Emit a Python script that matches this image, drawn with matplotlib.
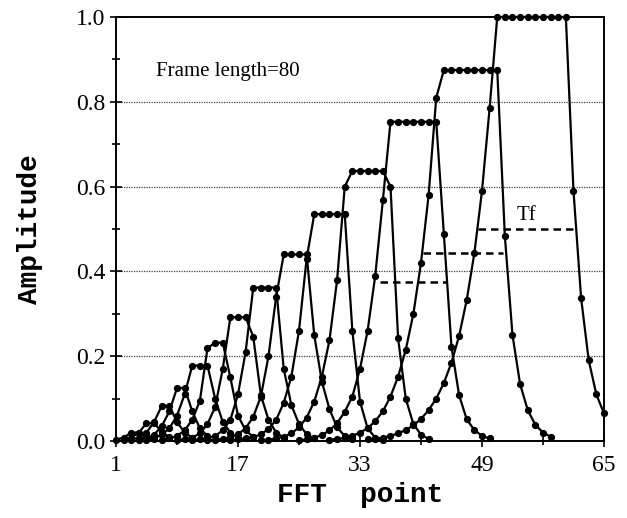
import matplotlib
matplotlib.use("Agg")
import matplotlib.pyplot as plt
import numpy as np

# first FFT point of each filter curve
starts = [1, 2, 3, 4, 5, 7, 9, 11, 13, 16, 20, 25, 29, 34]

# amplitudes, one list per filter, from its start point on
f01 = [0.003, 0.008, 0.02, 0.02, 0.01, 0.004]
f02 = [0.003, 0.008, 0.02, 0.042, 0.042, 0.022, 0.009]
f03 = [0.003, 0.008, 0.02, 0.045, 0.083, 0.083, 0.045, 0.02, 0.008]
f04 = [0.003, 0.007, 0.015, 0.035, 0.07, 0.125, 0.125, 0.07, 0.03, 0.012]
f05 = [0.003, 0.007, 0.015, 0.03, 0.06, 0.11, 0.178, 0.178, 0.178, 0.1,
       0.045, 0.02, 0.008]
f06 = [0.003, 0.006, 0.012, 0.025, 0.05, 0.095, 0.219, 0.232, 0.232, 0.15,
       0.06, 0.025, 0.01]
f07 = [0.003, 0.004, 0.008, 0.018, 0.04, 0.08, 0.17, 0.292, 0.292, 0.292,
       0.246, 0.108, 0.05, 0.02, 0.008]
f08 = [0.002, 0.004, 0.007, 0.012, 0.025, 0.05, 0.11, 0.21, 0.362, 0.362,
       0.362, 0.362, 0.17, 0.085, 0.04, 0.016, 0.006]
f09 = [0.002, 0.003, 0.005, 0.009, 0.016, 0.03, 0.057, 0.105, 0.2, 0.34,
       0.44, 0.44, 0.44, 0.44, 0.25, 0.14, 0.075, 0.032, 0.012, 0.004]
f10 = [0.002, 0.004, 0.006, 0.009, 0.016, 0.028, 0.05, 0.09, 0.152, 0.26,
       0.43, 0.535, 0.535, 0.535, 0.535, 0.535, 0.26, 0.093, 0.03, 0.008,
       0.002]
f11 = [0.002, 0.003, 0.006, 0.01, 0.018, 0.032, 0.055, 0.093, 0.152, 0.238,
       0.38, 0.6, 0.637, 0.637, 0.637, 0.637, 0.637, 0.6, 0.242, 0.1,
       0.04, 0.015, 0.005]
f12 = [0.002, 0.004, 0.008, 0.014, 0.025, 0.042, 0.069, 0.105, 0.17, 0.26,
       0.39, 0.568, 0.753, 0.753, 0.753, 0.753, 0.753, 0.753, 0.753, 0.488,
       0.222, 0.108, 0.051, 0.026, 0.012, 0.006]
f13 = [0.003, 0.005, 0.007, 0.012, 0.02, 0.03, 0.047, 0.07, 0.105, 0.152,
       0.215, 0.30, 0.42, 0.58, 0.81, 0.875, 0.875, 0.875, 0.875, 0.875,
       0.875, 0.875, 0.875, 0.483, 0.25, 0.134, 0.073, 0.038, 0.02, 0.01]
f14 = [0.004, 0.005, 0.008, 0.012, 0.018, 0.026, 0.037, 0.052, 0.073, 0.1,
       0.137, 0.185, 0.248, 0.333, 0.443, 0.59, 0.785, 1.0, 1.0, 1.0,
       1.0, 1.0, 1.0, 1.0, 1.0, 1.0, 1.0, 0.59, 0.337, 0.19, 0.11, 0.065]
filters = [f01, f02, f03, f04, f05, f06, f07, f08, f09, f10, f11, f12, f13, f14]

# half-amplitude widths (Tf) of the three top-right filters
tf_level = [0.376, 0.443, 0.50]
tf_from = [35.6, 41.3, 48.5]
tf_to = [44.4, 51.8, 61.2]

fig = plt.figure(figsize=(6.27, 5.18), dpi=100)
ax = fig.add_axes([0.185, 0.1486, 0.7783, 0.8185])

for y in [0.2, 0.4, 0.6, 0.8]:
    ax.axhline(y, color='0.25', lw=0.9, linestyle=(0, (1, 1)), zorder=1)

for s, vals in zip(starts, filters):
    xs = np.arange(s, s + len(vals))
    ax.plot(xs, vals, color='black', lw=1.6, marker='o', markersize=4.2,
            clip_on=False, zorder=3)

for y, a, b in zip(tf_level, tf_from, tf_to):
    ax.plot([a, b], [y, y], color='black', lw=1.8, linestyle=(0, (3, 2)), zorder=2)

ax.text(53.6, 0.522, 'Tf', fontsize=15, family='Liberation Serif')
ax.text(6.2, 0.862, 'Frame length=80', fontsize=15, family='Liberation Serif')

ax.set_xlim(1, 65)
ax.set_ylim(0, 1.0)
ax.set_xticks([1, 17, 33, 49, 65])
ax.set_xticks([9, 25, 41, 57], minor=True)
ax.set_yticks([0.0, 0.2, 0.4, 0.6, 0.8, 1.0])
ax.set_yticks([0.1, 0.3, 0.5, 0.7, 0.9], minor=True)
ax.set_yticklabels(['0.0', '0.2', '0.4', '0.6', '0.8', '1.0'])
ax.tick_params(which='both', direction='inout', width=1.2, colors='black')
ax.tick_params(which='major', length=8, labelsize=17)
ax.tick_params(axis='x', which='major', pad=6)
ax.tick_params(which='minor', length=6)
for lab in ax.get_xticklabels() + ax.get_yticklabels():
    lab.set_family('Liberation Serif')
for sp in ax.spines.values():
    sp.set_linewidth(1.4)

ax.set_xlabel('FFT  point', fontsize=20, family='Liberation Mono',
              fontweight='bold', va='center')
ax.set_ylabel('Amplitude', fontsize=20, family='Liberation Mono',
              fontweight='bold', va='center')
ax.xaxis.set_label_coords(0.5, -0.128)
ax.yaxis.set_label_coords(-0.176, 0.5)

fig.savefig('out.png', dpi=100)
